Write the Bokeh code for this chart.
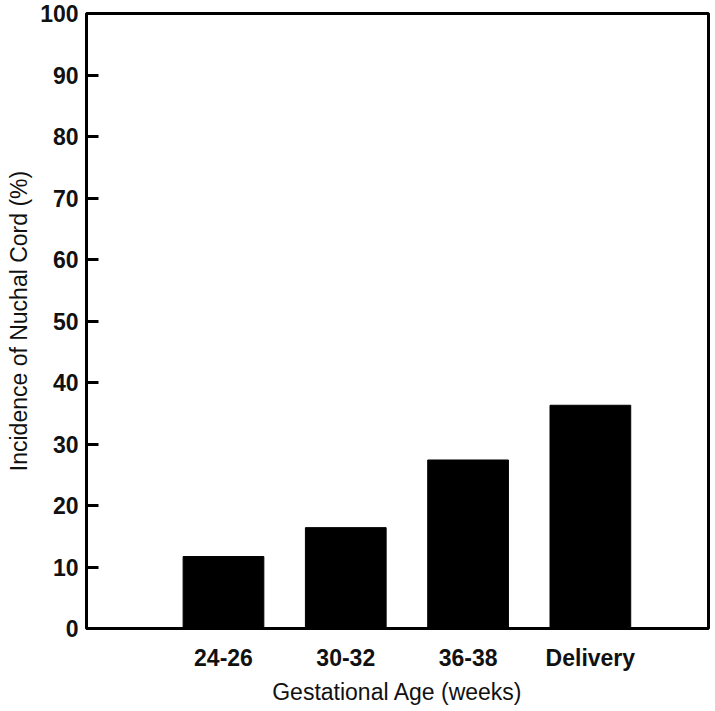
from bokeh.plotting import figure
from bokeh.models import FixedTicker, Range1d, ColumnDataSource
from bokeh.embed import file_html
from bokeh.resources import INLINE

categories = ["24-26", "30-32", "36-38", "Delivery"]
incidence = [11.7, 16.4, 27.4, 36.3]
y_ticks = [0, 10, 20, 30, 40, 50, 60, 70, 80, 90, 100]

positions = list(range(1, len(categories) + 1))
src = ColumnDataSource(data=dict(x=positions, top=incidence, cat=categories))

p = figure(width=715, height=711, output_backend="svg", toolbar_location=None,
           x_range=Range1d(-0.12, 4.966), y_range=Range1d(0, 100),
           min_border_left=86, min_border_top=13, min_border_right=7, min_border_bottom=83)

p.vbar(x="x", top="top", bottom=0, width=0.66, source=src,
       fill_color="black", line_color="black")

p.grid.visible = False
p.outline_line_color = "black"
p.outline_line_width = 3
p.background_fill_color = "white"
p.border_fill_color = "white"

font = "Liberation Sans"

xa = p.xaxis[0]
xa.ticker = FixedTicker(ticks=positions)
xa.major_label_overrides = {pos: c for pos, c in zip(positions, categories)}
xa.major_tick_in = 0
xa.major_tick_out = 0
xa.minor_tick_line_color = None
xa.major_label_standoff = 16
xa.axis_line_width = 3
xa.axis_line_color = "black"
xa.major_label_text_font = font
xa.major_label_text_font_size = "23px"
xa.major_label_text_font_style = "bold"
xa.major_label_text_color = "#111111"
xa.axis_label = "Gestational Age (weeks)"
xa.axis_label_text_font = font
xa.axis_label_text_font_size = "23px"
xa.axis_label_text_font_style = "normal"
xa.axis_label_text_color = "#111111"
xa.axis_label_standoff = 5

ya = p.yaxis[0]
ya.ticker = FixedTicker(ticks=y_ticks)
ya.major_tick_in = 12
ya.major_tick_out = 0
ya.major_tick_line_width = 3
ya.minor_tick_line_color = None
ya.major_label_standoff = 8
ya.axis_line_width = 3
ya.axis_line_color = "black"
ya.major_label_text_font = font
ya.major_label_text_font_size = "23px"
ya.major_label_text_font_style = "bold"
ya.major_label_text_color = "#111111"
ya.axis_label = "Incidence of Nuchal Cord (%)"
ya.axis_label_text_font = font
ya.axis_label_text_font_size = "23px"
ya.axis_label_text_font_style = "normal"
ya.axis_label_text_color = "#111111"
ya.axis_label_standoff = 5

open("out.html", "w").write(file_html(p, INLINE))
